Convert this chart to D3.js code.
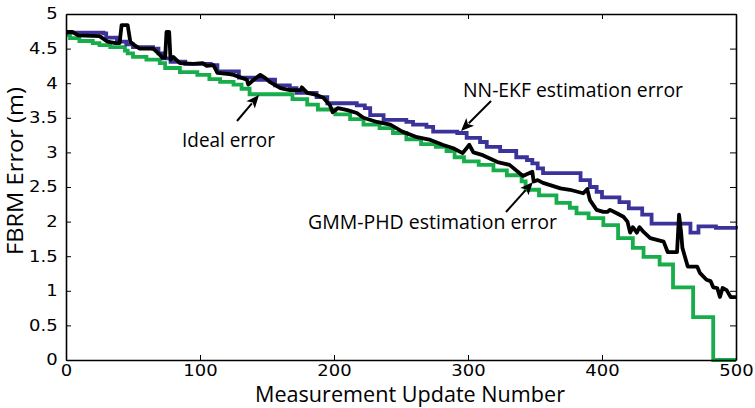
<!DOCTYPE html>
<html><head><meta charset="utf-8">
<script src="https://cdn.jsdelivr.net/npm/d3@7/dist/d3.min.js"></script>
<style>
html,body{margin:0;padding:0;background:#fff;}
svg{display:block;}
</style></head>
<body>
<svg id="chart" width="755" height="408"></svg>
<script>
// ---- data ----
const xTicks = [0, 100, 200, 300, 400, 500];
const yTicks = [0, 0.5, 1, 1.5, 2, 2.5, 3, 3.5, 4, 4.5, 5];
const yTickLabels = ["0", "0.5", "1", "1.5", "2", "2.5", "3", "3.5", "4", "4.5", "5"];

// Ideal error (green, staircase)
const idealX = [0,3,10,20,25,33,44,46,50,60,70,74,85,98,107,115,125,131,137,169,180,188,201,212,222,234,244,254,265,276,284,290,297,308,319,329,340,343,353,366,376,381,390,401,412,423,431,443,453,468,483,500];
const idealY = [4.70,4.65,4.61,4.58,4.55,4.52,4.47,4.43,4.38,4.34,4.29,4.22,4.16,4.12,4.06,4.02,3.98,3.92,3.84,3.77,3.69,3.62,3.55,3.48,3.40,3.35,3.28,3.19,3.12,3.08,3.02,2.93,2.87,2.82,2.74,2.67,2.58,2.46,2.38,2.27,2.20,2.12,2.05,1.95,1.76,1.62,1.49,1.38,1.05,0.62,0.0,0.0];

// NN-EKF estimation error (blue, staircase)
const ekfX = [0,28,30,38,45,50,65,69,72,78,89,108,113,129,140,152,156,167,172,187,195,217,223,227,237,254,259,269,274,292,299,309,314,324,336,344,348,352,356,376,384,391,396,400,413,420,430,437,465,466,471,472,485,500];
const ekfY = [4.73,4.72,4.66,4.60,4.56,4.52,4.50,4.43,4.36,4.31,4.28,4.26,4.17,4.08,4.05,4.05,3.97,3.93,3.86,3.80,3.71,3.68,3.64,3.54,3.47,3.44,3.40,3.37,3.30,3.28,3.21,3.15,3.08,3.02,2.93,2.89,2.84,2.77,2.70,2.70,2.60,2.50,2.43,2.35,2.28,2.19,2.10,1.97,1.97,1.84,1.84,1.93,1.91,1.89];

// GMM-PHD estimation error (black, jagged)
const phdX = [0,5,9,25,31,37,40,41.5,46,48,51,55,65,69,72,74,75,77,78,80,85,95,102,105,110,113,122,125,135,136,140,145,149,152,160,167,175,176,180,187,192,197,199,203,210,217,222,232,242,251,262,272,281,289,296,301,304,311,322,331,341,348,349,352,356,369,376,386,389,391,396,401,404,406,411,416,419,421,423,426,428,431,436,446,449,456,457.5,459,460,464,471,473,478,481,483,486,488,490,493,496,500];
const phdY = [4.74,4.74,4.69,4.68,4.60,4.58,4.58,4.84,4.84,4.60,4.55,4.50,4.50,4.43,4.37,4.37,4.74,4.74,4.34,4.38,4.29,4.28,4.29,4.25,4.26,4.15,4.13,4.12,4.05,3.98,4.05,4.12,4.07,4.02,3.93,3.90,3.90,3.94,3.86,3.83,3.79,3.68,3.58,3.64,3.61,3.57,3.50,3.44,3.40,3.30,3.22,3.18,3.11,3.06,2.99,3.11,3.00,2.96,2.86,2.82,2.66,2.72,2.58,2.60,2.56,2.48,2.46,2.41,2.47,2.31,2.17,2.14,2.14,2.17,2.12,2.07,2.00,1.84,1.92,1.84,1.92,1.85,1.76,1.71,1.56,1.56,2.10,1.85,1.62,1.35,1.35,1.26,1.16,1.14,1.05,1.04,0.91,1.04,1.01,0.91,0.91];

const seriesNames = ["Ideal error", "NN-EKF estimation error", "GMM-PHD estimation error"];
const seriesColors = ["#17ad4a", "#3b339a", "#000000"];

// ---- drawing ----
const svg = d3.select("#chart");
const W = 755, H = 408;
const m = {left: 66, right: 19, top: 14, bottom: 48};
const x = d3.scaleLinear().domain([0, 500]).range([m.left, W - m.right]);
const y = d3.scaleLinear().domain([0, 5]).range([H - m.bottom, m.top]);

const zip = (xs, ys) => xs.map((v, i) => [v, ys[i]]);
const stepLine = d3.line().x(d => x(d[0])).y(d => y(d[1])).curve(d3.curveStepAfter);
const linLine = d3.line().x(d => x(d[0])).y(d => y(d[1]));

const plot = svg.append("g");
plot.append("path").datum(zip(idealX, idealY)).attr("d", stepLine)
  .attr("fill", "none").attr("stroke", seriesColors[0]).attr("stroke-width", 3.8);
plot.append("path").datum(zip(ekfX, ekfY)).attr("d", stepLine)
  .attr("fill", "none").attr("stroke", seriesColors[1]).attr("stroke-width", 3.8);
plot.append("path").datum(zip(phdX, phdY)).attr("d", linLine)
  .attr("fill", "none").attr("stroke", seriesColors[2]).attr("stroke-width", 3.8).attr("stroke-linejoin", "round");

// axes (inside ticks, box)
const axStyle = g => {
  g.select(".domain").attr("stroke", "#000").attr("stroke-width", 1.6);
  g.selectAll(".tick line").attr("stroke", "#000").attr("stroke-width", 1);
};
const gx = svg.append("g").attr("transform", `translate(0,${y(0)})`)
  .call(d3.axisBottom(x).tickValues(xTicks).tickSize(-5).tickSizeOuter(0).tickPadding(5).tickFormat(d3.format("d")))
  .call(axStyle);
gx.selectAll(".tick text").attr("font-family", "DejaVu Sans").attr("font-size", 15).attr("fill", "#000")
  .attr("transform", "scale(1.2,1)");

const gy = svg.append("g").attr("transform", `translate(${x(0)},0)`)
  .call(d3.axisLeft(y).tickValues(yTicks).tickSize(-5).tickSizeOuter(0).tickPadding(7).tickFormat((d, i) => yTickLabels[i]))
  .call(axStyle);
gy.selectAll(".tick text").attr("font-family", "DejaVu Sans").attr("font-size", 15).attr("fill", "#000")
  .attr("transform", "scale(1.2,1)");

svg.append("g").attr("transform", `translate(0,${y(5)})`)
  .call(d3.axisTop(x).tickValues(xTicks).tickSize(-5).tickSizeOuter(0).tickFormat(""))
  .call(axStyle);
svg.append("g").attr("transform", `translate(${x(500)},0)`)
  .call(d3.axisRight(y).tickValues(yTicks).tickSize(-6).tickSizeOuter(0).tickFormat(""))
  .call(axStyle);

// axis titles
svg.append("text").attr("x", 410).attr("y", 402).attr("text-anchor", "middle")
  .attr("font-family", "Open Sans").attr("font-size", 21).attr("fill", "#000")
  .attr("textLength", 310).attr("lengthAdjust", "spacingAndGlyphs")
  .text("Measurement Update Number");
svg.append("text").attr("transform", "translate(23,171) rotate(-90)").attr("text-anchor", "middle")
  .attr("font-family", "Open Sans").attr("font-size", 21).attr("fill", "#000")
  .attr("textLength", 168).attr("lengthAdjust", "spacingAndGlyphs")
  .text("FBRM Error (m)");

// annotations with filled arrowheads
const ann = [
  {text: seriesNames[0], tx: 182, ty: 147, len: 93, ax1: 237, ay1: 121, ax2: 259, ay2: 95},
  {text: seriesNames[1], tx: 463, ty: 97, len: 220, ax1: 491, ay1: 101, ax2: 461, ay2: 131},
  {text: seriesNames[2], tx: 308, ty: 229, len: 249, ax1: 506, ay1: 212, ax2: 533, ay2: 182}
];
const headLen = 13, headHalf = 5.5;
ann.forEach(a => {
  svg.append("text").attr("x", a.tx).attr("y", a.ty)
    .attr("font-family", "Open Sans").attr("font-size", 20).attr("fill", "#000")
    .attr("textLength", a.len).attr("lengthAdjust", "spacingAndGlyphs").text(a.text);
  const dx = a.ax2 - a.ax1, dy = a.ay2 - a.ay1, L = Math.hypot(dx, dy);
  const ux = dx / L, uy = dy / L, px = -uy, py = ux;
  const bx = a.ax2 - ux * headLen, by = a.ay2 - uy * headLen;
  svg.append("line").attr("x1", a.ax1).attr("y1", a.ay1).attr("x2", bx + ux * 2).attr("y2", by + uy * 2)
    .attr("stroke", "#000").attr("stroke-width", 2);
  const nx = a.ax2 - ux * headLen * 0.75, ny = a.ay2 - uy * headLen * 0.75;
  svg.append("path")
    .attr("d", `M${a.ax2},${a.ay2} L${bx + px * headHalf},${by + py * headHalf} L${nx},${ny} L${bx - px * headHalf},${by - py * headHalf} Z`)
    .attr("fill", "#000");
});
</script>
</body></html>
